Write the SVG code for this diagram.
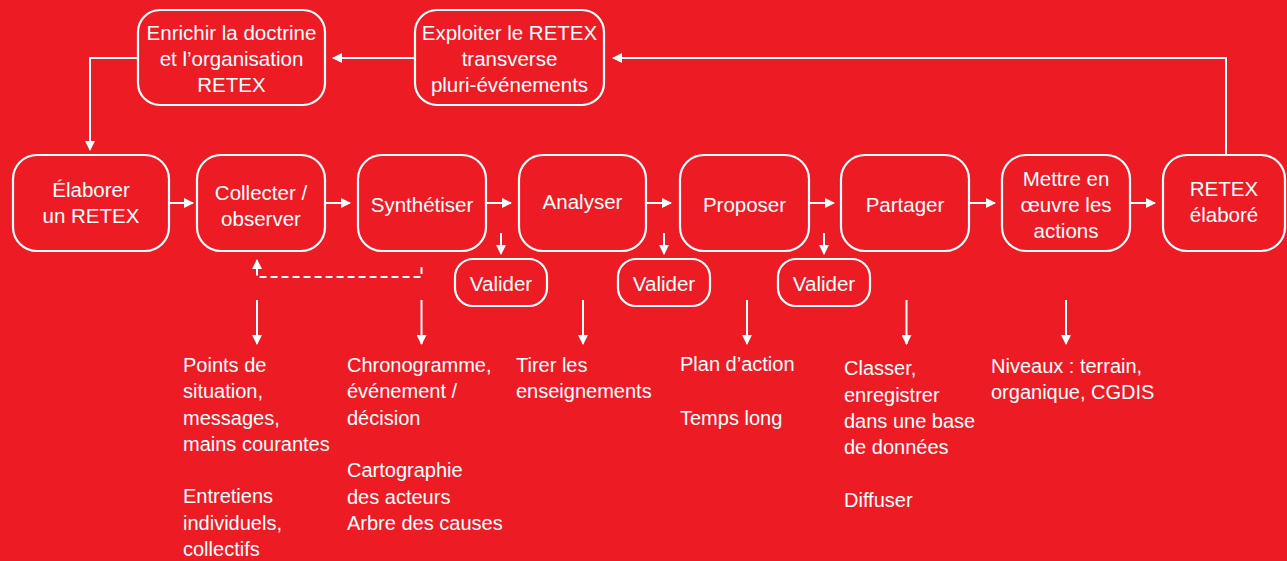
<svg xmlns="http://www.w3.org/2000/svg" width="1287" height="561" viewBox="0 0 1287 561">
<style>
.box{fill:none;stroke:#fff;stroke-width:2.2}
.t{font-family:"Liberation Sans",Arial,sans-serif;font-size:20px;fill:#fff}
.b{font-size:20.5px}
.c{text-anchor:middle}
.ln{fill:none;stroke:#fff;stroke-width:2}
.dash{stroke-dasharray:7 4}
</style>
<defs>
<marker id="ah" viewBox="0 0 10 10" refX="9" refY="5" markerWidth="10" markerHeight="10" markerUnits="userSpaceOnUse" orient="auto">
<path d="M0,0 L10,5 L0,10 z" fill="#fff"/>
</marker>
</defs>
<rect width="1287" height="561" fill="#ED1C24"/>

<g id="enrichir"><rect class="box" x="138" y="10" width="187" height="95" rx="22"/>
<text class="t b c" x="231.5" y="40">Enrichir la doctrine</text><text class="t b c" x="231.5" y="66">et l’organisation</text><text class="t b c" x="231.5" y="92">RETEX</text></g>
<g id="exploiter"><rect class="box" x="415" y="10" width="189" height="95" rx="22"/>
<text class="t b c" x="509.5" y="40">Exploiter le RETEX</text><text class="t b c" x="509.5" y="66">transverse</text><text class="t b c" x="509.5" y="92">pluri-événements</text></g>

<g id="elaborer"><rect class="box" x="13" y="155" width="156" height="96" rx="24"/>
<text class="t b c" x="91" y="197">Élaborer</text><text class="t b c" x="91" y="223">un RETEX</text></g>
<g id="collecter"><rect class="box" x="197" y="155" width="128" height="96" rx="24"/>
<text class="t b c" x="261" y="200">Collecter /</text><text class="t b c" x="261" y="226">observer</text></g>
<g id="synthetiser"><rect class="box" x="358" y="155" width="128" height="96" rx="24"/>
<text class="t b c" x="422" y="212">Synthétiser</text></g>
<g id="analyser"><rect class="box" x="519" y="155" width="127" height="96" rx="24"/>
<text class="t b c" x="582.5" y="209">Analyser</text></g>
<g id="proposer"><rect class="box" x="680" y="155" width="129" height="96" rx="24"/>
<text class="t b c" x="744.5" y="212">Proposer</text></g>
<g id="partager"><rect class="box" x="841" y="155" width="128" height="96" rx="24"/>
<text class="t b c" x="905" y="212">Partager</text></g>
<g id="mettre"><rect class="box" x="1002" y="155" width="128" height="96" rx="24"/>
<text class="t b c" x="1066" y="186">Mettre en</text><text class="t b c" x="1066" y="212">œuvre les</text><text class="t b c" x="1066" y="238">actions</text></g>
<g id="retex-elabore"><rect class="box" x="1163" y="155" width="122" height="96" rx="24"/>
<text class="t b c" x="1224" y="196">RETEX</text><text class="t b c" x="1224" y="222">élaboré</text></g>

<g id="valider1"><rect class="box" x="455" y="259" width="92" height="47" rx="18"/><text class="t b c" x="501" y="291">Valider</text></g>
<g id="valider2"><rect class="box" x="618" y="259" width="92" height="47" rx="18"/><text class="t b c" x="664" y="291">Valider</text></g>
<g id="valider3"><rect class="box" x="778" y="259" width="92" height="47" rx="18"/><text class="t b c" x="824" y="291">Valider</text></g>

<g id="connectors">
<path class="ln" d="M415,58 H333" marker-end="url(#ah)"/>
<path class="ln" d="M1226,155 V58 H613" marker-end="url(#ah)"/>
<path class="ln" d="M138,58 H90 V150" marker-end="url(#ah)"/>
<path class="ln" d="M169,203 H193" marker-end="url(#ah)"/>
<path class="ln" d="M325,203 H350" marker-end="url(#ah)"/>
<path class="ln" d="M486,203 H511" marker-end="url(#ah)"/>
<path class="ln" d="M646,203 H671" marker-end="url(#ah)"/>
<path class="ln" d="M809,203 H834" marker-end="url(#ah)"/>
<path class="ln" d="M969,203 H995" marker-end="url(#ah)"/>
<path class="ln" d="M1130,203 H1155" marker-end="url(#ah)"/>
<path class="ln" d="M501,233 V254" marker-end="url(#ah)"/>
<path class="ln" d="M664,233 V254" marker-end="url(#ah)"/>
<path class="ln" d="M824,233 V254" marker-end="url(#ah)"/>
<path class="ln dash" d="M421.5,267 V277 H257 V260" marker-end="url(#ah)"/>
<path class="ln" d="M257,300 V344" marker-end="url(#ah)"/>
<path class="ln" d="M421.5,300 V344" marker-end="url(#ah)"/>
<path class="ln" d="M583,300 V344" marker-end="url(#ah)"/>
<path class="ln" d="M747,300 V344" marker-end="url(#ah)"/>
<path class="ln" d="M906.5,300 V344" marker-end="url(#ah)"/>
<path class="ln" d="M1066,300 V344" marker-end="url(#ah)"/>
</g>

<g id="notes">
<text class="t" x="183" y="372">Points de</text>
<text class="t" x="183" y="398">situation,</text>
<text class="t" x="183" y="425">messages,</text>
<text class="t" x="183" y="451">mains courantes</text>
<text class="t" x="183" y="503">Entretiens</text>
<text class="t" x="183" y="530">individuels,</text>
<text class="t" x="183" y="556">collectifs</text>

<text class="t" x="347" y="372">Chronogramme,</text>
<text class="t" x="347" y="398">événement /</text>
<text class="t" x="347" y="425">décision</text>
<text class="t" x="347" y="477">Cartographie</text>
<text class="t" x="347" y="504">des acteurs</text>
<text class="t" x="347" y="530">Arbre des causes</text>

<text class="t" x="516" y="372">Tirer les</text>
<text class="t" x="516" y="398">enseignements</text>

<text class="t" x="680" y="371">Plan d’action</text>
<text class="t" x="680" y="425">Temps long</text>

<text class="t" x="844" y="375">Classer,</text>
<text class="t" x="844" y="402">enregistrer</text>
<text class="t" x="844" y="428">dans une base</text>
<text class="t" x="844" y="454">de données</text>
<text class="t" x="844" y="507">Diffuser</text>

<text class="t" x="991" y="373">Niveaux : terrain,</text>
<text class="t" x="991" y="399">organique, CGDIS</text>
</g>
</svg>
